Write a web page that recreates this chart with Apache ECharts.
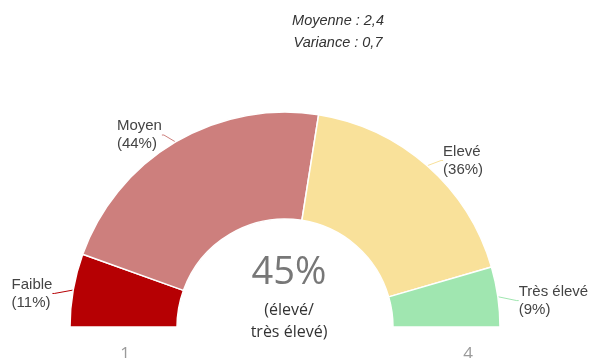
<!DOCTYPE html>
<html>
<head>
<meta charset="utf-8">
<script src="https://cdn.jsdelivr.net/npm/echarts@6/dist/echarts.min.js"></script>
<style>
  html, body { margin: 0; padding: 0; background: #fff; }
  #chart { width: 592px; height: 358px; }
</style>
</head>
<body>
<div id="chart"></div>
<script>
// Répartition des réponses sur l'échelle 1 à 4
const categories = ['Faible', 'Moyen', 'Elevé', 'Très élevé'];
const percents = [11, 44, 36, 9];
const colors = ['#b60003', '#cd7f7d', '#f9e19a', '#a0e6b0'];
const statsLines = ['Moyenne : 2,4', 'Variance : 0,7'];
const highShare = 45;              // élevé + très élevé
const highShareCaption = ['(élevé/', 'très élevé)'];
const scaleEnds = ['1', '4'];

const total = percents.reduce((a, b) => a + b, 0);

const data = categories.map((name, i) => ({
  name: name,
  value: percents[i],
  itemStyle: { color: colors[i] },
  label: { show: true },
  labelLine: { show: true, lineStyle: { color: colors[i] } }
}));
// invisible lower half so the ring becomes a half-donut
data.push({
  name: '',
  value: total,
  itemStyle: { color: 'rgba(0,0,0,0)', borderWidth: 0 },
  label: { show: false },
  labelLine: { show: false },
  emphasis: { disabled: true },
  tooltip: { show: false }
});

const chart = echarts.init(document.getElementById('chart'), null, { renderer: 'canvas' });

chart.setOption({
  animation: false,
  backgroundColor: '#ffffff',
  series: [{
    type: 'pie',
    center: [285, 327],
    radius: [108, 215],
    startAngle: 180,
    clockwise: true,
    avoidLabelOverlap: false,
    itemStyle: { borderColor: '#ffffff', borderWidth: 1.5 },
    label: {
      position: 'outside',
      formatter: p => p.name + '\n(' + p.value + '%)',
      color: '#444444',
      fontFamily: 'Liberation Sans, Arial, sans-serif',
      fontSize: 15,
      lineHeight: 18,
      distanceToLabelLine: 4
    },
    labelLine: { length: 15, length2: 2, smooth: false, lineStyle: { width: 1 } },
    // keep each label block where the library put it, but left-align its lines
    labelLayout: p => ({
      x: p.labelRect.x,
      align: 'left',
      dy: 6
    }),
    data: data
  }],
  graphic: [
    {
      type: 'text', x: 338, y: 32,
      style: {
        text: statsLines.join('\n'), textAlign: 'center', textVerticalAlign: 'middle',
        fontFamily: 'Liberation Sans, Arial, sans-serif', fontStyle: 'italic',
        fontSize: 14.5, lineHeight: 22, fill: '#333333'
      }
    },
    {
      type: 'text', x: 289, y: 273,
      style: {
        text: highShare + '%', textAlign: 'center', textVerticalAlign: 'middle',
        fontFamily: 'Open Sans, Noto Sans, sans-serif', fontSize: 38, fill: '#777777'
      }
    },
    {
      type: 'text', x: 289, y: 321,
      style: {
        text: highShareCaption.join('\n'), textAlign: 'center', textVerticalAlign: 'middle',
        fontFamily: 'Open Sans, Noto Sans, sans-serif', fontSize: 16, lineHeight: 22, fill: '#333333'
      }
    },
    {
      type: 'text', x: 125, y: 354,
      style: {
        text: scaleEnds[0], textAlign: 'center', textVerticalAlign: 'middle',
        fontFamily: 'Open Sans, Noto Sans, sans-serif', fontSize: 17, fill: '#9a9a9a'
      }
    },
    {
      type: 'text', x: 468, y: 354,
      style: {
        text: scaleEnds[1], textAlign: 'center', textVerticalAlign: 'middle',
        fontFamily: 'Open Sans, Noto Sans, sans-serif', fontSize: 17, fill: '#9a9a9a'
      }
    }
  ]
});
</script>
</body>
</html>
